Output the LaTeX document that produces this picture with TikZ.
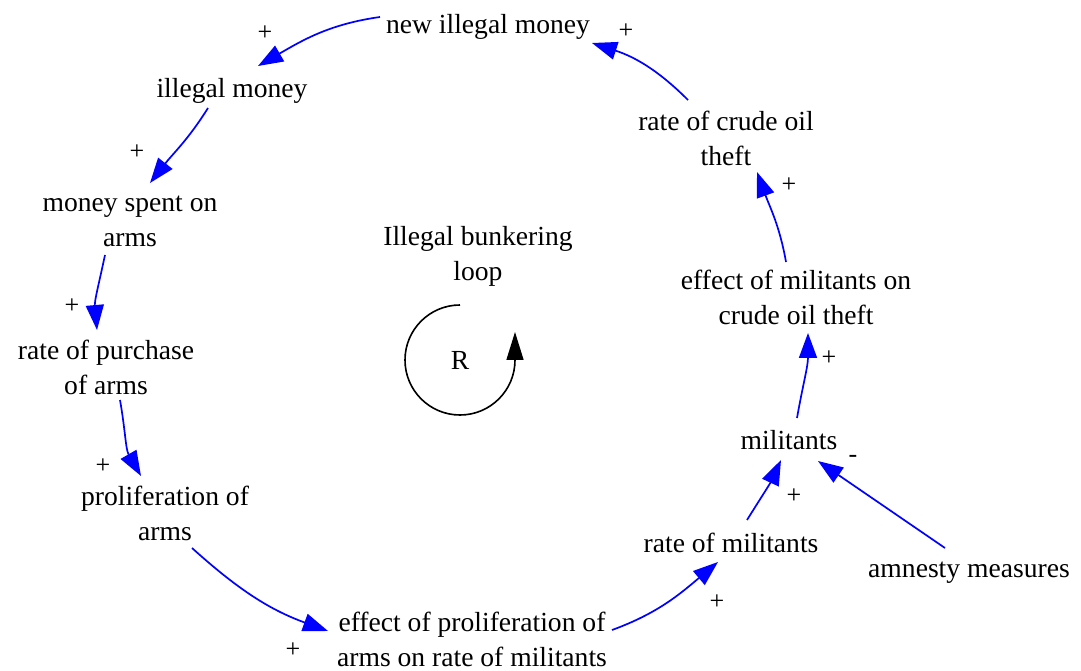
\documentclass[tikz,border=0pt]{standalone}
\usepackage{fontspec}
\setmainfont{Liberation Serif}
\usetikzlibrary{arrows.meta}
\begin{document}
\begin{tikzpicture}[x=1pt,y=1pt,
  var/.style={align=center, inner sep=0pt, font=\fontsize{27.6}{35}\selectfont},
  pol/.style={inner sep=0pt, font=\fontsize{26}{30}\selectfont},
  link/.style={draw=blue, line width=1.7pt, -{Triangle[length=25pt,width=18pt]}},
  looparrow/.style={draw=black, line width=1.6pt, -{Triangle[length=28pt,width=17pt]}},
]
\useasboundingbox (0,0) rectangle (1081,670);

% variables
\node[var] (nim)  at (488,643) {new illegal money};
\node[var] (im)   at (232,579) {illegal money};
\node[var] (msa)  at (130,449) {money spent on\\arms};
\node[var] (rpa)  at (106,303) {rate of purchase\\of arms};
\node[var] (poa)  at (165,157) {proliferation of\\arms};
\node[var] (epa)  at (472,31)  {effect of proliferation of\\arms on rate of militants};
\node[var] (rm)   at (731,127) {rate of militants};
\node[var] (mil)  at (789,230) {militants};
\node[var] (am)   at (969,97)  {amnesty measures};
\node[var] (emc)  at (796,373) {effect of militants on\\crude oil theft};
\node[var] (rcot) at (726,532) {rate of crude oil\\theft};
\node[var] (loop) at (478,414) {Illegal bunkering\\loop};
\node[var] (R)    at (460,310) {R};

% loop symbol
\coordinate (looptop) at (460,365);
\draw[looparrow] (looptop) arc[start angle=90,end angle=360,radius=55] -- ++(0,28);

% links
\draw[link] ([shift={(-108,10)}]nim.center) to[out=188,in=30] ([shift={(26,25)}]im.center);
\draw[link] ([shift={(-24,-17)}]im.center) to[out=238,in=52] ([shift={(20,38)}]msa.center);
\draw[link] ([shift={(-25,-34)}]msa.center) to[out=258,in=95] ([shift={(-9,37)}]rpa.center);
\draw[link] ([shift={(14,-33)}]rpa.center) to[out=-80,in=120] ([shift={(-24,37)}]poa.center);
\draw[link] ([shift={(27,-35)}]poa.center) to[out=-42,in=160] ([shift={(-144,8)}]epa.center);
\draw[link] ([shift={(140,9)}]epa.center) to[out=20,in=220] ([shift={(-13,-19)}]rm.center);
\draw[link] ([shift={(16,23)}]rm.center) to[out=58,in=245] ([shift={(-8,-20)}]mil.center);
\draw[link] ([shift={(-24,25)}]am.center) -- ([shift={(29,-21)}]mil.center);
\draw[link] ([shift={(8,22)}]mil.center) to[out=80,in=-90] ([shift={(12,-36)}]emc.center);
\draw[link] ([shift={(-10,35)}]emc.center) to[out=100,in=-70] ([shift={(31,-34)}]rcot.center);
\draw[link] ([shift={(-38,38)}]rcot.center) to[out=135,in=-18] ([shift={(104,-16)}]nim.center);

% polarities
\node[pol] (p1)  at (265,637) {+};
\node[pol] (p2)  at (137,518) {+};
\node[pol] (p3)  at (72,364)  {+};
\node[pol] (p4)  at (103,204) {+};
\node[pol] (p5)  at (293,20)  {+};
\node[pol] (p6)  at (717,68)  {+};
\node[pol] (p7)  at (794,174) {+};
\node[pol] (p8)  at (853,211) {-};
\node[pol] (p9)  at (829,312) {+};
\node[pol] (p10) at (789,485) {+};
\node[pol] (p11) at (626,639) {+};
\end{tikzpicture}
\end{document}
